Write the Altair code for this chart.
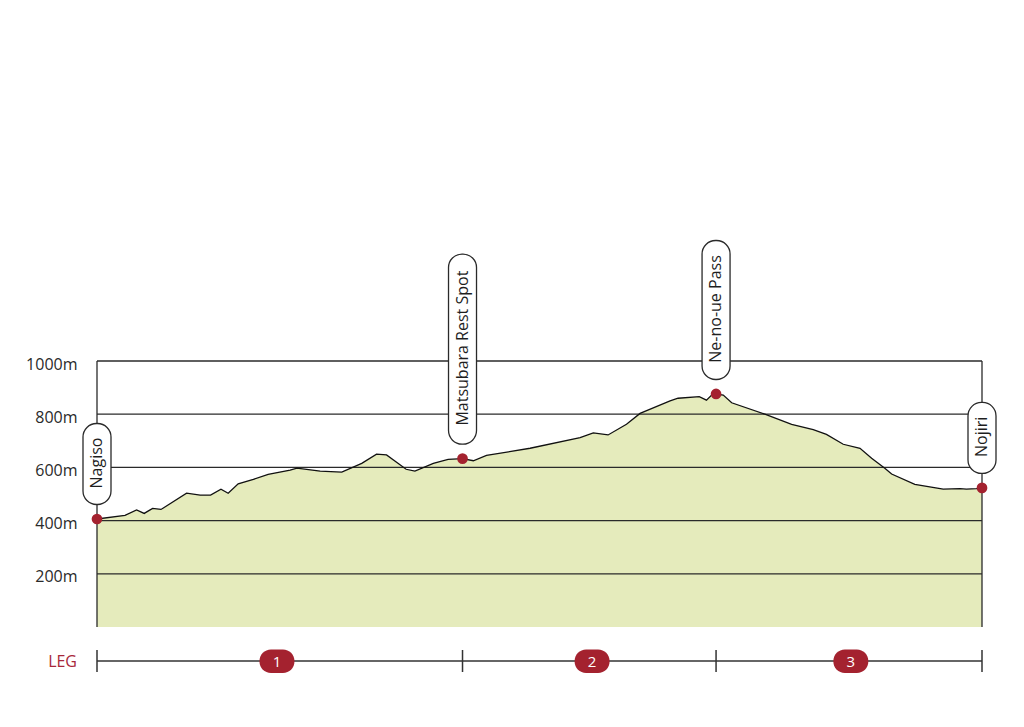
import altair as alt
import pandas as pd

# ---- elevation profile (distance in km, elevation in m) ----
dist_km = [0.00, 0.70, 0.99, 1.18, 1.39, 1.60, 2.24, 2.58, 2.84, 3.10, 3.28, 3.53, 3.91, 4.28,
           4.83, 5.00, 5.58, 6.12, 6.62, 6.99, 7.24, 7.73, 7.95, 8.41, 8.78, 9.14, 9.41, 9.74,
           10.83, 12.08, 12.41, 12.78, 13.24, 13.58, 14.33, 14.53, 15.06, 15.24, 15.37, 15.48,
           15.66, 15.87, 16.70, 17.37, 17.91, 18.24, 18.66, 19.08, 19.37, 19.70, 19.87, 20.45,
           21.16, 21.58, 21.74, 21.99, 22.13]
elev_m = [406, 420, 440, 427, 446, 442, 503, 496, 496, 518, 503, 538, 555, 574,
          590, 597, 586, 582, 615, 650, 647, 593, 586, 615, 630, 633, 625, 645,
          672, 712, 730, 722, 762, 803, 850, 860, 866, 853, 872, 876,
          872, 843, 800, 762, 742, 724, 687, 672, 634, 597, 575, 536,
          518, 520, 518, 520, 523]

# ---- stations ----
station_names = ["Nagiso", "Matsubara Rest Spot", "Ne-no-ue Pass", "Nojiri"]
station_dist = [0.00, 9.14, 15.48, 22.13]
station_elev = [406, 633, 876, 523]

# ---- legs ----
leg_labels = ["1", "2", "3"]
leg_start = [0.00, 9.14, 15.48]
leg_end = [9.14, 15.48, 22.13]
leg_label_km = [4.50, 12.38, 18.85]

# ---- y axis ticks ----
y_ticks = [200, 400, 600, 800, 1000]

# styles
RED = "#a4222f"
FILL = "#e5ebbc"
INK = "#2a2a2a"
FONT = "Open Sans"
BOX_LEN = {"Nagiso": 81, "Matsubara Rest Spot": 190, "Ne-no-ue Pass": 139, "Nojiri": 71}
GAP = 14.5
W, H = 885, 266

x_max = max(dist_km)
prof = pd.DataFrame({"d": dist_km, "e": elev_m})
stations = pd.DataFrame({"name": station_names, "d": station_dist, "e": station_elev})
legs = pd.DataFrame({"leg": leg_labels, "start": leg_start, "end": leg_end, "mid": leg_label_km})
bounds = pd.DataFrame({"d": sorted(set(leg_start + leg_end))})
grid = pd.DataFrame({"v": y_ticks, "x0": 0.0, "x1": x_max})
sides = pd.DataFrame({"d": [0.0, x_max], "y0": 0, "y1": 1000})

xs = alt.Scale(domain=[0, x_max], nice=False, zero=False)
ys = alt.Scale(domain=[0, 1000], nice=False)
yax = alt.Axis(
    values=y_ticks, labelExpr="datum.value + 'm'", ticks=False, domain=False, grid=False,
    labelPadding=20, labelFontSize=16, labelFont=FONT, labelColor="#2a2a2a",
    labelOffset=3, title=None)


def Y(field):
    return alt.Y(field, scale=ys, axis=yax)


def X(field):
    return alt.X(field, scale=xs, axis=None)


area = alt.Chart(prof).mark_area(color=FILL, opacity=1).encode(x=X("d:Q"), y=Y("e:Q"))

grid_rules = alt.Chart(grid).mark_rule(color=INK, strokeWidth=1.3).encode(
    x=X("x0:Q"), x2="x1:Q", y=Y("v:Q")
)

side_rules = alt.Chart(sides).mark_rule(color=INK, strokeWidth=1.3).encode(
    x=X("d:Q"), y=Y("y0:Q"), y2="y1:Q"
)

line = alt.Chart(prof).mark_line(color="#111", strokeWidth=1.3).encode(x=X("d:Q"), y=Y("e:Q"))

layers = [area, grid_rules, side_rules, line]

for name in station_names:
    L = BOX_LEN[name]
    sub = stations[stations["name"] == name]
    box = alt.Chart(sub).mark_rect(
        fill="white", stroke=INK, strokeWidth=1.3, cornerRadius=13.5,
        xOffset=-14, x2Offset=14, yOffset=-GAP, y2Offset=-(GAP + L),
    ).encode(x=X("d:Q"), x2="d:Q", y=Y("e:Q"), y2="e:Q")
    txt = alt.Chart(sub).mark_text(
        angle=270, align="center", baseline="middle", fontSize=16, font=FONT,
        color="#1e1e1e", yOffset=-(GAP + L / 2), dx=1,
    ).encode(x=X("d:Q"), y=Y("e:Q"), text="name:N")
    layers += [box, txt]

dots = alt.Chart(stations).mark_circle(size=115, color=RED, opacity=1).encode(
    x=X("d:Q"), y=Y("e:Q")
)
layers.append(dots)

# ---- leg strip below the profile (fixed pixel row under the plot) ----
STRIP_Y = 300
leg_line = alt.Chart(legs).mark_rule(color="#333", strokeWidth=1.5).encode(
    x=X("start:Q"), x2="end:Q", y=alt.value(STRIP_Y)
)
leg_ticks = alt.Chart(bounds).mark_rule(color="#333", strokeWidth=1.5).encode(
    x=X("d:Q"), y=alt.value(STRIP_Y - 11), y2=alt.value(STRIP_Y + 11)
)
leg_pills = alt.Chart(legs).mark_rect(
    fill=RED, cornerRadius=11.5, xOffset=-17.5, x2Offset=17.5
).encode(
    x=X("mid:Q"), x2="mid:Q", y=alt.value(STRIP_Y - 11.5), y2=alt.value(STRIP_Y + 12),
)
leg_nums = alt.Chart(legs).mark_text(
    color="white", fontSize=15, font=FONT, align="center", baseline="middle", dy=1
).encode(x=X("mid:Q"), y=alt.value(STRIP_Y), text="leg:N")
leg_title = alt.Chart(legs.head(1)).mark_text(
    color="#a8283a", fontSize=16, font=FONT, align="right", baseline="middle", dy=1,
    text="LEG", xOffset=-20,
).encode(x=X("start:Q"), y=alt.value(STRIP_Y))

layers += [leg_line, leg_ticks, leg_pills, leg_nums, leg_title]

chart = alt.layer(*layers).properties(
    width=W, height=H,
    autosize=alt.AutoSizeParams(type="none"),
    padding={"left": 89, "top": 353, "right": 26, "bottom": 70},
).configure_view(strokeWidth=0)

chart.save("out.html", embed_options={"renderer": "svg", "actions": False})
